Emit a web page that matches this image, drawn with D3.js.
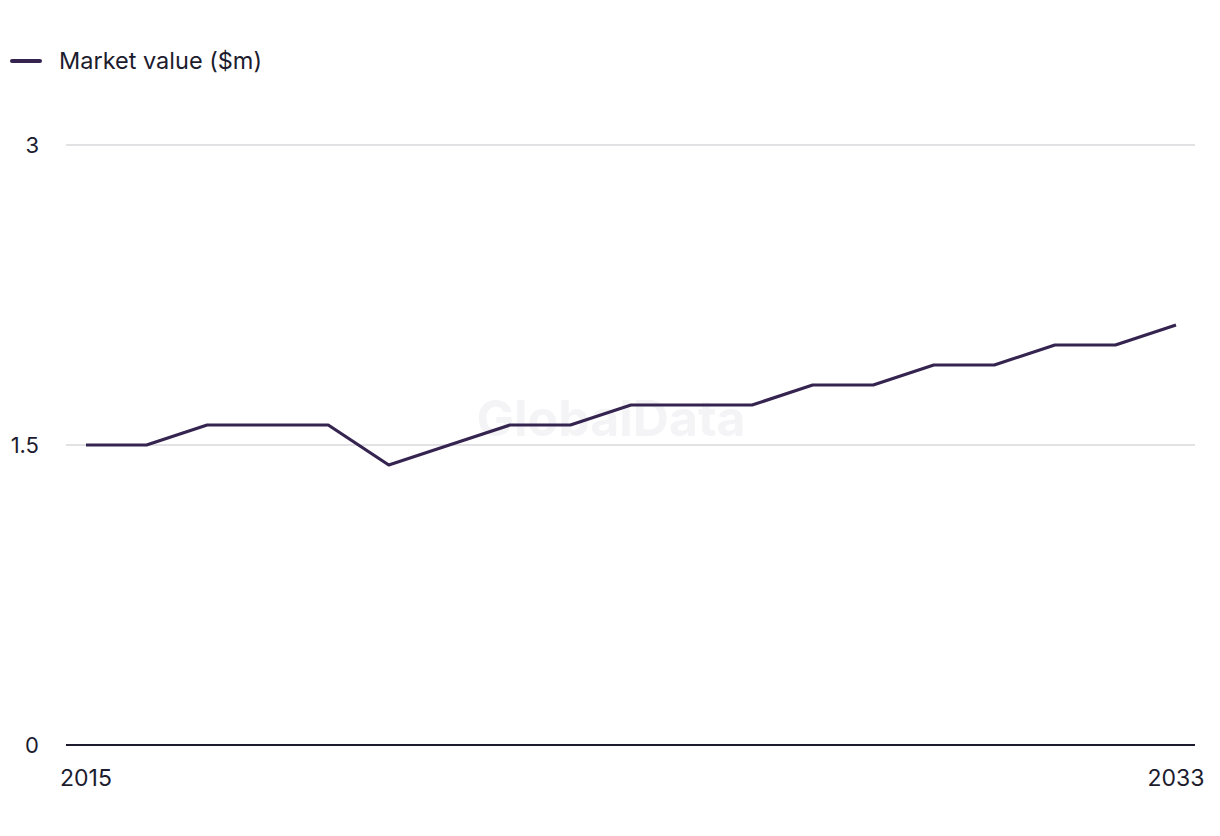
<!DOCTYPE html>
<html><head><meta charset="utf-8">
<script src="https://cdn.jsdelivr.net/npm/d3@7"></script>
<style>body{margin:0;background:#fff;} svg{display:block;} text{font-family:Inter, "Liberation Sans", sans-serif;}</style>
</head><body>
<script>
const years = [2015,2016,2017,2018,2019,2020,2021,2022,2023,2024,2025,2026,2027,2028,2029,2030,2031,2032,2033];
const marketValue = [1.5,1.5,1.6,1.6,1.6,1.4,1.5,1.6,1.6,1.7,1.7,1.7,1.8,1.8,1.9,1.9,2.0,2.0,2.1];
const yTicks = [0,1.5,3];
const xTickLabels = [2015,2033];
const seriesName = "Market value ($m)";

const W=1220,H=836;
const svg=d3.select("body").append("svg").attr("width",W).attr("height",H);
const x=d3.scalePoint().domain(years).range([86,1176]);
const y=d3.scaleLinear().domain([0,3]).range([745,145]);
const textColor="#1c1c2e", lineColor="#35244f";

// watermark
svg.append("text").attr("x",611).attr("y",436).attr("text-anchor","middle")
  .attr("font-size",50).attr("font-weight",700).attr("fill","#f4f4f6").text("GlobalData");

// gridlines
svg.append("g").selectAll("line").data(yTicks.filter(d=>d>0)).join("line")
  .attr("x1",66).attr("x2",1195).attr("y1",d=>y(d)).attr("y2",d=>y(d))
  .attr("stroke","#d9d9dc").attr("stroke-width",1.5);
svg.append("line").attr("x1",66).attr("x2",1195).attr("y1",y(0)).attr("y2",y(0))
  .attr("stroke",textColor).attr("stroke-width",2);

// y labels
svg.append("g").selectAll("text").data(yTicks).join("text")
  .attr("x",39).attr("y",d=>y(d)).attr("dy","0.35em").attr("text-anchor","end")
  .attr("font-size",22).attr("fill",textColor).text(d=>d);
// x labels
svg.append("g").selectAll("text").data(xTickLabels).join("text")
  .attr("x",d=>x(d)).attr("y",786).attr("text-anchor","middle")
  .attr("font-size",23).attr("fill",textColor).text(d=>d);

// line
const line=d3.line().x((d,i)=>x(years[i])).y(d=>y(d));
svg.append("path").datum(marketValue).attr("d",line).attr("fill","none")
  .attr("stroke",lineColor).attr("stroke-width",3.2).attr("stroke-linejoin","round");

// legend
svg.append("line").attr("x1",12).attr("x2",40).attr("y1",61).attr("y2",61)
  .attr("stroke",lineColor).attr("stroke-width",4).attr("stroke-linecap","round");
svg.append("text").attr("x",59).attr("y",61).attr("dy","0.35em").attr("font-size",23.5)
  .attr("fill",textColor).text(seriesName);
</script>
</body></html>
